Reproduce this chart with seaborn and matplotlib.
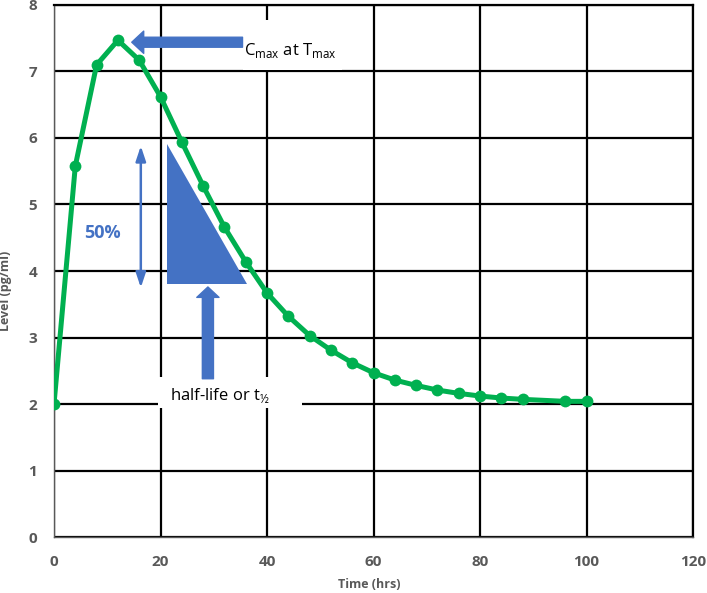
import numpy as np
import pandas as pd
import seaborn as sns
import matplotlib.pyplot as plt
from matplotlib.patches import Polygon, Rectangle

# Data
time_hrs = [0, 4, 8, 12, 16, 20, 24, 28, 32, 36, 40, 44, 48, 52, 56, 60,
            64, 68, 72, 76, 80, 84, 88, 96, 100]
level_pg_ml = [2.0, 5.58, 7.1, 7.47, 7.17, 6.62, 5.94, 5.28, 4.66, 4.14, 3.67,
               3.32, 3.03, 2.81, 2.62, 2.47, 2.36, 2.28, 2.21, 2.16, 2.12,
               2.09, 2.07, 2.04, 2.04]

x_ticks = [0, 20, 40, 60, 80, 100, 120]
y_ticks = [0, 1, 2, 3, 4, 5, 6, 7, 8]

green = '#00B050'
blue = '#4472C4'
gray = '#595959'

sns.set_style('white')
plt.rcParams['font.family'] = ['Open Sans', 'DejaVu Sans']
plt.rcParams['mathtext.fontset'] = 'custom'
plt.rcParams['mathtext.rm'] = 'Open Sans'

df = pd.DataFrame({'Time (hrs)': time_hrs, 'Level (pg/ml)': level_pg_ml})

fig = plt.figure(figsize=(7.07, 5.93), dpi=100)
ax = fig.add_axes([0.0764, 0.0944, 0.9038, 0.8972])

sns.lineplot(data=df, x='Time (hrs)', y='Level (pg/ml)', ax=ax, color=green,
             linewidth=3.6, marker='o', markersize=8.5, markeredgewidth=0,
             zorder=5)

ax.set_xlim(0, 120)
ax.set_ylim(0, 8)
ax.set_xticks(x_ticks)
ax.set_yticks(y_ticks)
ax.grid(True, color='black', linewidth=1.6)
ax.set_axisbelow(True)
ax.tick_params(length=0, labelsize=11, labelcolor=gray)
ax.tick_params(axis='x', pad=13)
ax.tick_params(axis='y', pad=12)
for lbl in ax.get_xticklabels() + ax.get_yticklabels():
    lbl.set_fontweight('bold')

for side in ['top', 'right']:
    ax.spines[side].set_color('black')
    ax.spines[side].set_linewidth(1.6)
for side in ['left', 'bottom']:
    ax.spines[side].set_color('#595959')
    ax.spines[side].set_linewidth(1.0)

ax.set_xlabel('Time (hrs)', fontsize=9, fontweight='bold', color=gray)
ax.set_ylabel('Level (pg/ml)', fontsize=9, fontweight='bold', color=gray)
ax.xaxis.set_label_coords(0.494, -0.077)
ax.yaxis.set_label_coords(-0.066, 0.462)

# Cmax arrow and label (white box breaks the grid behind the text)
ax.add_patch(Rectangle((35.5, 7.02), 18.5, 0.75, facecolor='white',
                       edgecolor='none', zorder=3))
ax.annotate('', xy=(14.6, 7.44), xytext=(35.4, 7.44),
            arrowprops=dict(arrowstyle='simple,head_length=8.6,head_width=16,tail_width=7.2',
                            mutation_scale=1, color=blue, shrinkA=0, shrinkB=0),
            zorder=6)
ax.text(35.6, 7.32, r'C$_{\mathregular{max}}$ at T$_{\mathregular{max}}$',
        fontsize=12, color='black', ha='left', va='center', zorder=6)

# 50% double arrow
ax.annotate('', xy=(16.3, 5.88), xytext=(16.3, 3.75),
            arrowprops=dict(arrowstyle='<|-|>,head_length=0.9,head_width=0.3',
                            mutation_scale=10, color=blue, lw=1.8,
                            shrinkA=0, shrinkB=0), zorder=6)
ax.text(9.0, 4.57, '50%', fontsize=13, fontweight='bold', color=blue,
        ha='center', va='center', zorder=6)

# half-life triangle
ax.add_patch(Polygon([(21.3, 5.91), (21.3, 3.80), (36.2, 3.80)], closed=True,
                     facecolor=blue, edgecolor='none', zorder=4))

# half-life arrow and label
ax.add_patch(Rectangle((19.5, 1.94), 27.1, 0.47, facecolor='white',
                       edgecolor='none', zorder=3))
ax.annotate('', xy=(28.9, 3.76), xytext=(28.9, 2.38),
            arrowprops=dict(arrowstyle='simple,head_length=7.5,head_width=16,tail_width=8',
                            mutation_scale=1, color=blue, shrinkA=0, shrinkB=0),
            zorder=6)
ax.text(31.2, 2.12, r'half-life or t$_{\mathregular{½}}$', fontsize=12,
        color='black', ha='center', va='center', zorder=6)

fig.savefig('out.png', dpi=100)
